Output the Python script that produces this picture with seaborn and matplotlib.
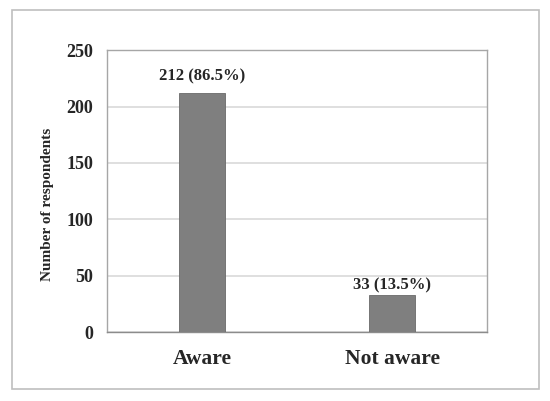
import matplotlib
matplotlib.use("Agg")
import matplotlib.pyplot as plt
import matplotlib.patches as mpatches
import pandas as pd
import seaborn as sns

categories = ["Aware", "Not aware"]
counts = [212, 33]
percents = [86.5, 13.5]
y_ticks = [0, 50, 100, 150, 200, 250]

sns.set_style("white")
plt.rcParams["font.family"] = ["Liberation Serif", "DejaVu Serif"]
plt.rcParams["font.weight"] = "bold"

df = pd.DataFrame({"awareness": categories, "respondents": counts})

fig = plt.figure(figsize=(5.5, 4.01), dpi=100)
ax = fig.add_axes([0.1945, 0.172, 0.691, 0.703])

sns.barplot(data=df, x="awareness", y="respondents", color="#7f7f7f",
            width=0.24, saturation=1, ax=ax, zorder=3)
for bar in ax.patches:
    bar.set_edgecolor("#6a6a6a")
    bar.set_linewidth(0.6)

# label gap above each bar (data units), as placed in the original
label_gap = [8, 1.5]
for i, (c, p) in enumerate(zip(counts, percents)):
    ax.text(i, c + label_gap[i], f"{c} ({p}%)", ha="center", va="bottom",
            fontsize=12, fontweight="bold")

ax.set_ylim(0, 250)
ax.set_xlim(-0.5, 1.5)
ax.set_yticks(y_ticks)
ax.set_yticklabels([str(t) for t in y_ticks], fontsize=13, fontweight="bold")
ax.set_xticks(range(len(categories)))
ax.set_xticklabels(categories, fontsize=15.5, fontweight="bold")
ax.tick_params(axis="both", length=0)
ax.tick_params(axis="y", pad=10)
ax.tick_params(axis="x", pad=12)
ax.set_xlabel("")
ax.set_ylabel("Number of respondents", fontsize=11, fontweight="bold")
ax.yaxis.set_label_coords(-0.14, 0.454)

ax.yaxis.grid(True, color="#d9d9d9", linewidth=1.2, zorder=0)
ax.set_axisbelow(True)
for side, spine in ax.spines.items():
    spine.set_visible(True)
    spine.set_color("#a6a6a6")
    spine.set_linewidth(1.0)
ax.spines["bottom"].set_color("#8c8c8c")

fig.patches.append(mpatches.Rectangle((12 / 550, 1 - 389 / 401), 527 / 550, 379 / 401,
                                      transform=fig.transFigure, fill=False,
                                      edgecolor="#bfbfbf", linewidth=1.2))

fig.savefig("out.png", dpi=100)
